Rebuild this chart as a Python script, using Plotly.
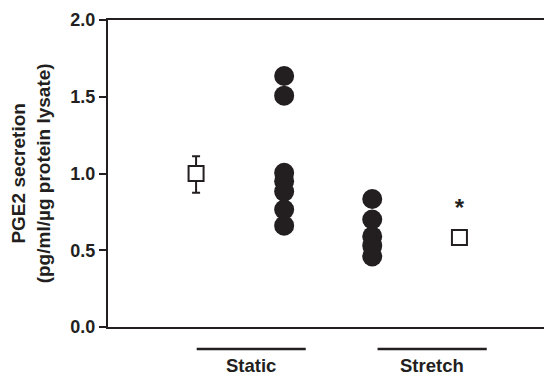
import plotly.graph_objects as go

# Data
groups = ["Static", "Stretch"]
static_mean = [1.0]
static_err_plus = [0.113]
static_err_minus = [0.125]
static_points = [1.635, 1.507, 1.005, 0.95, 0.882, 0.765, 0.66]
stretch_points = [0.834, 0.70, 0.59, 0.53, 0.46]
stretch_mean = [0.583]
star_value = [0.765]
y_ticks = [0.0, 0.5, 1.0, 1.5, 2.0]
y_tick_labels = ["0.0", "0.5", "1.0", "1.5", "2.0"]

# x positions of columns
x_static_mean = 1.0
x_static_pts = 2.0
x_stretch_pts = 3.0
x_stretch_mean = 3.99

ink = "#231f20"
font_family = "Liberation Sans"

fig = go.Figure()

fig.add_trace(go.Scatter(
    x=[x_static_pts] * len(static_points), y=static_points, mode="markers",
    marker=dict(symbol="circle", size=20, color=ink, line=dict(width=0)),
    showlegend=False, cliponaxis=False))
fig.add_trace(go.Scatter(
    x=[x_stretch_pts] * len(stretch_points), y=stretch_points, mode="markers",
    marker=dict(symbol="circle", size=20, color=ink, line=dict(width=0)),
    showlegend=False, cliponaxis=False))

fig.add_trace(go.Scatter(
    x=[x_static_mean], y=static_mean, mode="markers",
    marker=dict(symbol="square", size=15, color="white", line=dict(width=2, color=ink)),
    error_y=dict(type="data", symmetric=False, array=static_err_plus,
                 arrayminus=static_err_minus, color=ink, thickness=2, width=4),
    showlegend=False, cliponaxis=False))
fig.add_trace(go.Scatter(
    x=[x_stretch_mean], y=stretch_mean, mode="markers",
    marker=dict(symbol="square", size=15, color="white", line=dict(width=2, color=ink)),
    showlegend=False, cliponaxis=False))

fig.add_trace(go.Scatter(
    x=[x_stretch_mean], y=star_value, mode="text", text=["*"],
    textfont=dict(family=font_family, size=24, color=ink, weight="bold"),
    showlegend=False, cliponaxis=False))

# group bars and labels below axis
group_spans = [(1.007, 2.245), (3.06, 4.30)]
for (x0, x1), name in zip(group_spans, groups):
    fig.add_shape(type="line", xref="x", yref="paper", x0=x0, x1=x1,
                  y0=-0.0717, y1=-0.0717, line=dict(color=ink, width=2.5))
    fig.add_annotation(x=(x0 + x1) / 2, y=-0.127, xref="x", yref="paper",
                       text=name, showarrow=False,
                       font=dict(family=font_family, size=18.5, color=ink, weight="bold"),
                       xanchor="center", yanchor="middle")

fig.add_annotation(x=-0.177, y=0.5, xref="paper", yref="paper",
                   text="PGE2 secretion<br>(pg/ml/µg protein lysate)",
                   textangle=-90, showarrow=False,
                   font=dict(family=font_family, size=19, color=ink, weight="bold"),
                   xanchor="center", yanchor="middle")

fig.update_layout(
    width=544, height=375,
    margin=dict(l=108, r=0, t=20, b=48),
    plot_bgcolor="white", paper_bgcolor="white",
    xaxis=dict(range=[0, 4.95], showgrid=False, zeroline=False, showticklabels=False,
               ticks="", showline=True, linecolor=ink, linewidth=2, mirror=True),
    yaxis=dict(range=[0, 2.0], showgrid=False, zeroline=False,
               tickvals=y_ticks, ticktext=y_tick_labels,
               ticks="outside", ticklen=7, tickwidth=2, tickcolor=ink,
               showline=True, linecolor=ink, linewidth=2,
               tickfont=dict(family=font_family, size=18, color=ink, weight="bold")),
)

fig.write_html("out.html")
